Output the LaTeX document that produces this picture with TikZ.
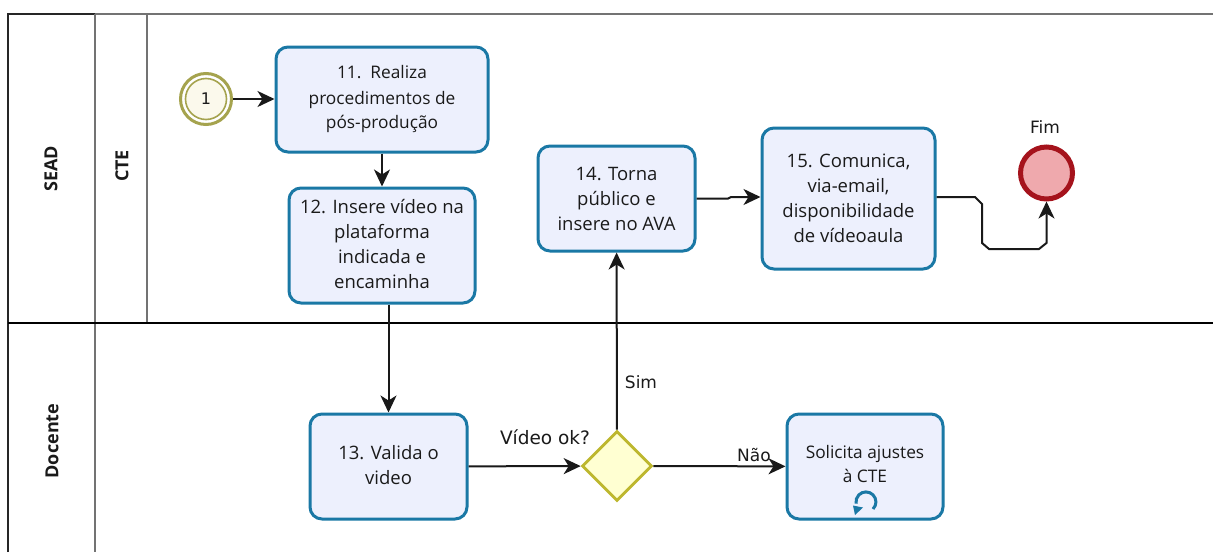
\documentclass[tikz,border=0pt]{standalone}
\usepackage{fontspec}
\setmainfont{Open Sans}
\newfontfamily\lblfont{DejaVu Sans}
\usetikzlibrary{shapes.geometric,arrows.meta}
\definecolor{taskfill}{HTML}{EDF0FD}
\definecolor{taskline}{HTML}{1A78A5}
\definecolor{startline}{HTML}{A5A34E}
\definecolor{startfill}{HTML}{FBF9EC}
\definecolor{endline}{HTML}{A5131C}
\definecolor{endfill}{HTML}{EFA9AD}
\definecolor{gateline}{HTML}{BDB72E}
\definecolor{gatefill}{HTML}{FFFFD2}
\definecolor{inktext}{HTML}{1A1A1A}
\tikzset{
  x=1pt,y=-1pt,
  task/.style={draw=taskline,fill=taskfill,line width=3pt,rounded corners=12pt,align=center,
    inner sep=0pt,font=\fontsize{18.5}{25}\selectfont,text=inktext},
  smalltext/.style={font=\fontsize{17.3}{24.5}\selectfont},
  flow/.style={draw=black!90,line width=2pt,-{Stealth[length=17pt,width=16pt,inset=5pt]}},
  laneline/.style={draw=black!55,line width=1.6pt},
  lanedark/.style={draw=black!85,line width=1.8pt},
  lanetitle/.style={rotate=90,font=\bfseries\fontsize{18}{20}\selectfont,text=inktext},
  lbl/.style={font=\lblfont\fontsize{17}{20}\selectfont,text=inktext,inner sep=0pt},
}
\begin{document}
\begin{tikzpicture}
\useasboundingbox (0,0) rectangle (1213,552);
\fill[white] (0,0) rectangle (1213,552);
% lanes
\draw[laneline] (95,14) -- (1213,14);
\draw[lanedark] (8,552) -- (8,14) -- (95,14);
\draw[laneline] (95,14) -- (95,552);
\draw[laneline] (147,14) -- (147,323);
\draw[draw=black,line width=2.4pt] (8,323) -- (1213,323);
\node[lanetitle] (sead) at (51,169) {SEAD};
\node[lanetitle] (cte) at (122,166) {CTE};
\node[lanetitle] (doc) at (52,441) {Docente};
% events
\node[circle,draw=startline,fill=white,line width=3pt,minimum size=51pt,inner sep=0pt] (st) at (206,99) {};
\node[circle,draw=startline,fill=startfill,line width=1.6pt,minimum size=41pt,inner sep=0pt,font=\lblfont\fontsize{16}{18}\selectfont,text=inktext] (sti) at (206,99) {1};
\node[circle,draw=endline,fill=endfill,line width=5pt,minimum size=52pt,inner sep=0pt] (en) at (1046.5,173) {};
\node[lbl] (fim) at (1045,127) {Fim};
% tasks
\node[task,smalltext,minimum width=212pt,minimum height=105pt] (t11) at (382,99.5) {\raisebox{1pt}{11.\ \ Realiza}\\procedimentos de\\pós-produção};
\node[task,minimum width=186pt,minimum height=115pt] (t12) at (382,245.5) {\raisebox{3pt}{12. Insere vídeo na}\\\raisebox{3pt}{plataforma}\\\raisebox{3pt}{indicada e}\\\raisebox{3pt}{encaminha}};
\node[task,minimum width=157pt,minimum height=105pt] (t14) at (616.5,198.5) {14. Torna\\público e\\insere no AVA};
\node[task,minimum width=173pt,minimum height=141pt] (t15) at (848.5,198.5) {15. Comunica,\\via-email,\\disponibilidade\\de vídeoaula};
\node[task,minimum width=157pt,minimum height=105pt] (t13) at (388.5,466.5) {\raisebox{3pt}{13. Valida o}\\\raisebox{3pt}{video}};
\node[task,minimum width=156pt,minimum height=105pt] (t16) at (865,466.5) {};
\node[align=center,inner sep=0pt,smalltext,text=inktext] (t16t) at (865,464) {Solicita ajustes\\à CTE};
% gateway
\node[diamond,draw=gateline,fill=gatefill,line width=2.8pt,minimum width=70pt,minimum height=70pt,inner sep=0pt] (gw) at (617,466) {};
% loop marker
\draw[draw=taskline,line width=3pt] (873,509) arc[start angle=-45,end angle=190,radius=10pt];
\fill[taskline] (853,505.5) -- (863,507.5) -- (855,515) -- cycle;
% connectors
\draw[flow] (st) -- (t11.west |- st);
\draw[flow] (t11) -- (t12);
\draw[flow] (t13.north |- t12.south) -- (t13);
\draw[flow] (t13) -- (gw);
\draw[flow] (gw) -- (t16);
\draw[flow] (gw) -- (t14);
\coordinate (j1) at (728,198.5);
\coordinate (j2) at (731,197);
\draw[flow] (t14.east) -- (j1) -- (j2) -- (t15.west |- j2);
\coordinate (b1) at (975,197);
\coordinate (b2) at (982,204);
\coordinate (b3) at (982,243);
\coordinate (b4) at (989,249);
\coordinate (b5) at (1039,249);
\coordinate (b6) at (1046.5,243);
\draw[flow] (t15.east |- b1) -- (b1) -- (b2) -- (b3) -- (b4) -- (b5) -- (b6) -- (en);
% labels
\node[lbl,font=\lblfont\fontsize{18.5}{20}\selectfont] (lv) at (545,437) {Vídeo ok?};
\node[lbl] (ln) at (754,455) {Não};
\node[lbl] (ls) at (641,382) {Sim};
\end{tikzpicture}
\end{document}
